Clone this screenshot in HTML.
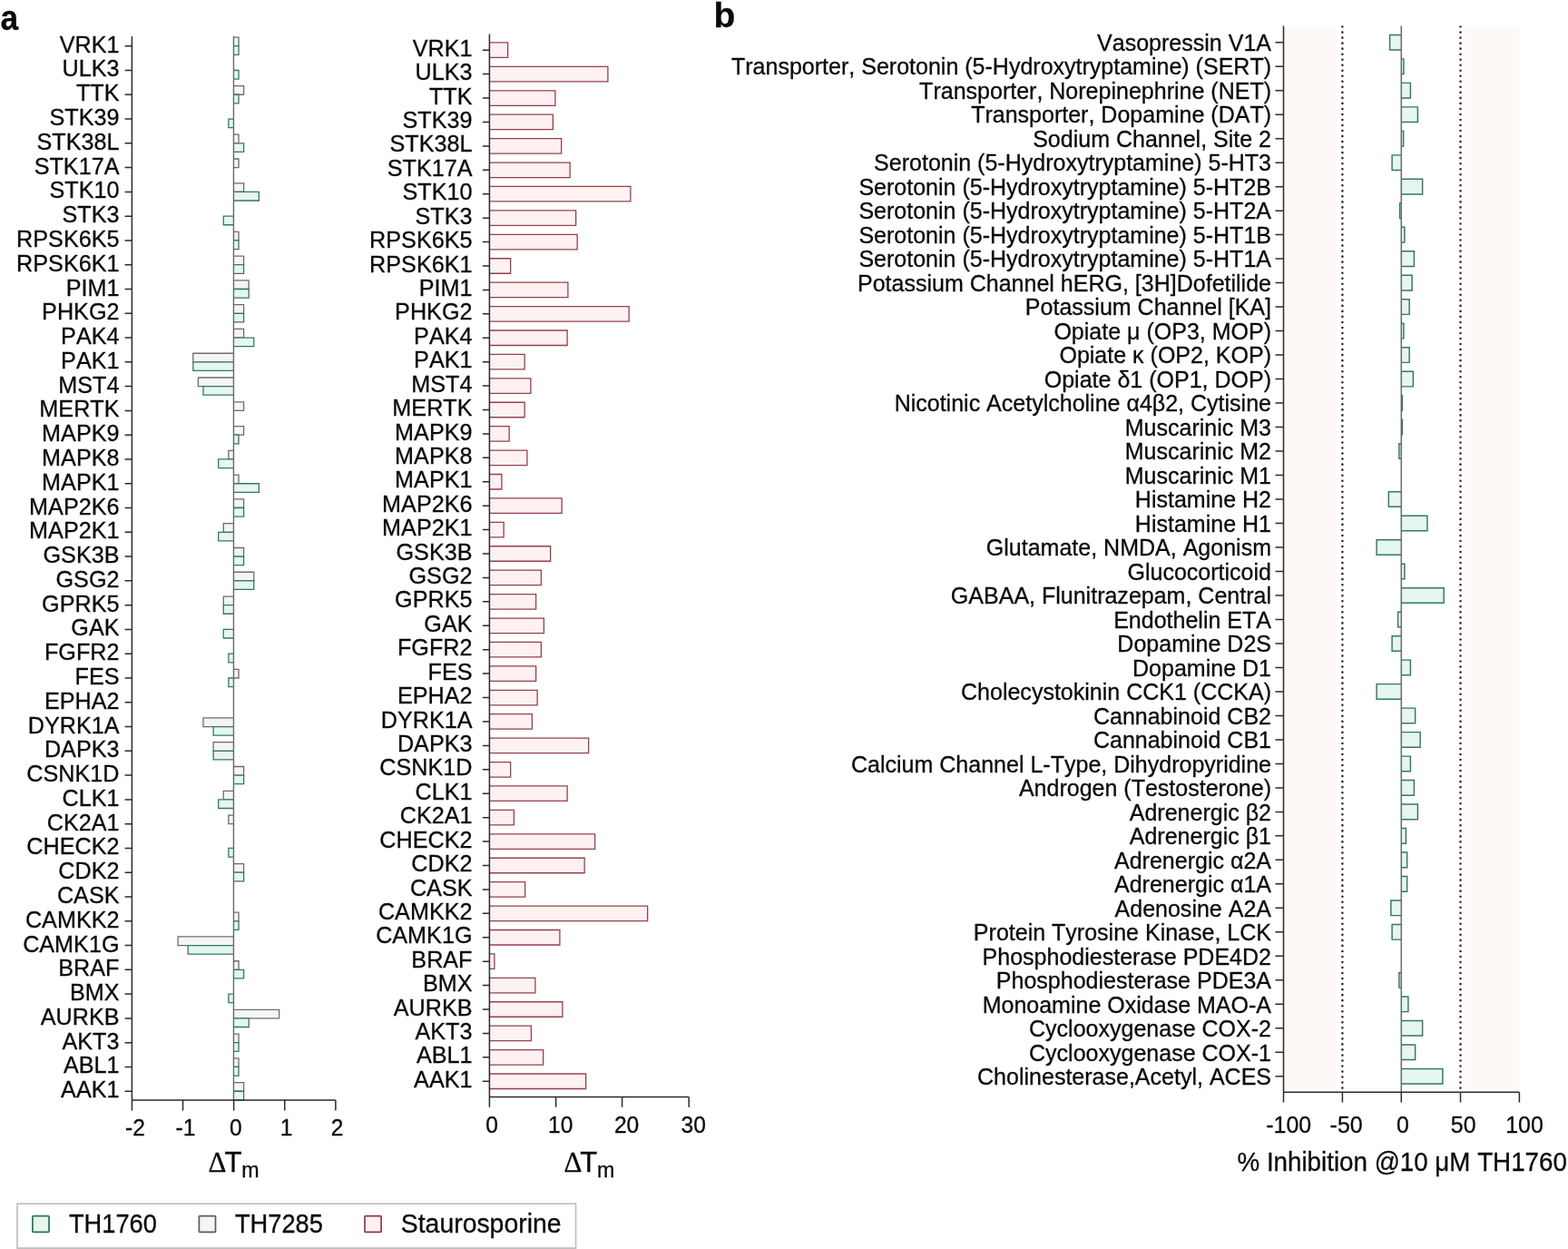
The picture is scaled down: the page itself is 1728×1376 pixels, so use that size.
<!DOCTYPE html>
<html lang="en"><head><meta charset="utf-8"><title>Figure</title>
<style>html,body{margin:0;padding:0;background:#fff}svg{display:block}text{font-family:"Liberation Sans",sans-serif;fill:#0a0a0a;font-kerning:none;stroke:#0a0a0a;stroke-width:.3px}.e{text-anchor:end}.m{text-anchor:middle}.b{font-weight:bold}.d{font-family:"Liberation Serif",serif}</style></head><body>
<svg width="1728" height="1376" viewBox="0 0 1728 1376">
<rect width="1728" height="1376" fill="#fff"/>
<text class="b" font-size="38" transform="translate(0.4 32.6) scale(0.93 1.000)">a</text>
<text class="b" font-size="39" x="786.5" y="29.5">b</text>
<g id="left">
<g font-size="25.2" class="e">
<text x="131.5" y="57.7">VRK1</text>
<text x="131.5" y="84.48">ULK3</text>
<text x="131.5" y="111.26">TTK</text>
<text x="131.5" y="138.04">STK39</text>
<text x="131.5" y="164.82">STK38L</text>
<text x="131.5" y="191.6">STK17A</text>
<text x="131.5" y="218.38">STK10</text>
<text x="131.5" y="245.16">STK3</text>
<text x="131.5" y="271.94">RPSK6K5</text>
<text x="131.5" y="298.72">RPSK6K1</text>
<text x="131.5" y="325.5">PIM1</text>
<text x="131.5" y="352.28">PHKG2</text>
<text x="131.5" y="379.06">PAK4</text>
<text x="131.5" y="405.84">PAK1</text>
<text x="131.5" y="432.62">MST4</text>
<text x="131.5" y="459.4">MERTK</text>
<text x="131.5" y="486.18">MAPK9</text>
<text x="131.5" y="512.96">MAPK8</text>
<text x="131.5" y="539.74">MAPK1</text>
<text x="131.5" y="566.52">MAP2K6</text>
<text x="131.5" y="593.3">MAP2K1</text>
<text x="131.5" y="620.08">GSK3B</text>
<text x="131.5" y="646.86">GSG2</text>
<text x="131.5" y="673.64">GPRK5</text>
<text x="131.5" y="700.42">GAK</text>
<text x="131.5" y="727.2">FGFR2</text>
<text x="131.5" y="753.98">FES</text>
<text x="131.5" y="780.76">EPHA2</text>
<text x="131.5" y="807.54">DYRK1A</text>
<text x="131.5" y="834.32">DAPK3</text>
<text x="131.5" y="861.1">CSNK1D</text>
<text x="131.5" y="887.88">CLK1</text>
<text x="131.5" y="914.66">CK2A1</text>
<text x="131.5" y="941.44">CHECK2</text>
<text x="131.5" y="968.22">CDK2</text>
<text x="131.5" y="995">CASK</text>
<text x="131.5" y="1021.78">CAMKK2</text>
<text x="131.5" y="1048.56">CAMK1G</text>
<text x="131.5" y="1075.34">BRAF</text>
<text x="131.5" y="1102.12">BMX</text>
<text x="131.5" y="1128.9">AURKB</text>
<text x="131.5" y="1155.68">AKT3</text>
<text x="131.5" y="1182.46">ABL1</text>
<text x="131.5" y="1209.24">AAK1</text>
</g>
<g stroke-width="1.3" stroke-linejoin="miter">
<path d="M257.45 41.1H263.03V50.7H257.45" fill="#f5f5f4" stroke="#6c6c6c"/>
<path d="M257.45 50.7H263.03V60.3H257.45" fill="#e5f7ef" stroke="#35795c"/>
<path d="M257.45 77.48H263.03V87.08H257.45" fill="#e5f7ef" stroke="#35795c"/>
<path d="M257.45 94.66H268.61V104.26H257.45" fill="#f5f5f4" stroke="#6c6c6c"/>
<path d="M257.45 104.26H263.03V113.86H257.45" fill="#e5f7ef" stroke="#35795c"/>
<path d="M257.45 131.04H251.87V140.64H257.45" fill="#e5f7ef" stroke="#35795c"/>
<path d="M257.45 148.22H263.03V157.82H257.45" fill="#f5f5f4" stroke="#6c6c6c"/>
<path d="M257.45 157.82H268.61V167.42H257.45" fill="#e5f7ef" stroke="#35795c"/>
<path d="M257.45 175H263.03V184.6H257.45" fill="#f5f5f4" stroke="#6c6c6c"/>
<path d="M257.45 201.78H268.61V211.38H257.45" fill="#f5f5f4" stroke="#6c6c6c"/>
<path d="M257.45 211.38H285.35V220.98H257.45" fill="#e5f7ef" stroke="#35795c"/>
<path d="M257.45 238.16H246.29V247.76H257.45" fill="#e5f7ef" stroke="#35795c"/>
<path d="M257.45 255.34H263.03V264.94H257.45" fill="#f5f5f4" stroke="#6c6c6c"/>
<path d="M257.45 264.94H263.03V274.54H257.45" fill="#e5f7ef" stroke="#35795c"/>
<path d="M257.45 282.12H268.61V291.72H257.45" fill="#f5f5f4" stroke="#6c6c6c"/>
<path d="M257.45 291.72H268.61V301.32H257.45" fill="#e5f7ef" stroke="#35795c"/>
<path d="M257.45 308.9H274.19V318.5H257.45" fill="#f5f5f4" stroke="#6c6c6c"/>
<path d="M257.45 318.5H274.19V328.1H257.45" fill="#e5f7ef" stroke="#35795c"/>
<path d="M257.45 335.68H268.61V345.28H257.45" fill="#f5f5f4" stroke="#6c6c6c"/>
<path d="M257.45 345.28H268.61V354.88H257.45" fill="#e5f7ef" stroke="#35795c"/>
<path d="M257.45 362.46H268.61V372.06H257.45" fill="#f5f5f4" stroke="#6c6c6c"/>
<path d="M257.45 372.06H279.77V381.66H257.45" fill="#e5f7ef" stroke="#35795c"/>
<path d="M257.45 389.24H212.81V398.84H257.45" fill="#f5f5f4" stroke="#6c6c6c"/>
<path d="M257.45 398.84H212.81V408.44H257.45" fill="#e5f7ef" stroke="#35795c"/>
<path d="M257.45 416.02H218.39V425.62H257.45" fill="#f5f5f4" stroke="#6c6c6c"/>
<path d="M257.45 425.62H223.97V435.22H257.45" fill="#e5f7ef" stroke="#35795c"/>
<path d="M257.45 442.8H268.61V452.4H257.45" fill="#f5f5f4" stroke="#6c6c6c"/>
<path d="M257.45 469.58H268.61V479.18H257.45" fill="#f5f5f4" stroke="#6c6c6c"/>
<path d="M257.45 479.18H263.03V488.78H257.45" fill="#e5f7ef" stroke="#35795c"/>
<path d="M257.45 496.36H251.87V505.96H257.45" fill="#f5f5f4" stroke="#6c6c6c"/>
<path d="M257.45 505.96H240.71V515.56H257.45" fill="#e5f7ef" stroke="#35795c"/>
<path d="M257.45 523.14H263.03V532.74H257.45" fill="#f5f5f4" stroke="#6c6c6c"/>
<path d="M257.45 532.74H285.35V542.34H257.45" fill="#e5f7ef" stroke="#35795c"/>
<path d="M257.45 549.92H268.61V559.52H257.45" fill="#f5f5f4" stroke="#6c6c6c"/>
<path d="M257.45 559.52H268.61V569.12H257.45" fill="#e5f7ef" stroke="#35795c"/>
<path d="M257.45 576.7H246.29V586.3H257.45" fill="#f5f5f4" stroke="#6c6c6c"/>
<path d="M257.45 586.3H240.71V595.9H257.45" fill="#e5f7ef" stroke="#35795c"/>
<path d="M257.45 603.48H268.61V613.08H257.45" fill="#f5f5f4" stroke="#6c6c6c"/>
<path d="M257.45 613.08H268.61V622.68H257.45" fill="#e5f7ef" stroke="#35795c"/>
<path d="M257.45 630.26H279.77V639.86H257.45" fill="#f5f5f4" stroke="#6c6c6c"/>
<path d="M257.45 639.86H279.77V649.46H257.45" fill="#e5f7ef" stroke="#35795c"/>
<path d="M257.45 657.04H246.29V666.64H257.45" fill="#f5f5f4" stroke="#6c6c6c"/>
<path d="M257.45 666.64H246.29V676.24H257.45" fill="#e5f7ef" stroke="#35795c"/>
<path d="M257.45 693.42H246.29V703.02H257.45" fill="#e5f7ef" stroke="#35795c"/>
<path d="M257.45 720.2H251.87V729.8H257.45" fill="#e5f7ef" stroke="#35795c"/>
<path d="M257.45 737.38H263.03V746.98H257.45" fill="#f5f5f4" stroke="#6c6c6c"/>
<path d="M257.45 746.98H251.87V756.58H257.45" fill="#e5f7ef" stroke="#35795c"/>
<path d="M257.45 790.94H223.97V800.54H257.45" fill="#f5f5f4" stroke="#6c6c6c"/>
<path d="M257.45 800.54H235.13V810.14H257.45" fill="#e5f7ef" stroke="#35795c"/>
<path d="M257.45 817.72H235.13V827.32H257.45" fill="#f5f5f4" stroke="#6c6c6c"/>
<path d="M257.45 827.32H235.13V836.92H257.45" fill="#e5f7ef" stroke="#35795c"/>
<path d="M257.45 844.5H268.61V854.1H257.45" fill="#f5f5f4" stroke="#6c6c6c"/>
<path d="M257.45 854.1H268.61V863.7H257.45" fill="#e5f7ef" stroke="#35795c"/>
<path d="M257.45 871.28H246.29V880.88H257.45" fill="#f5f5f4" stroke="#6c6c6c"/>
<path d="M257.45 880.88H240.71V890.48H257.45" fill="#e5f7ef" stroke="#35795c"/>
<path d="M257.45 898.06H251.87V907.66H257.45" fill="#f5f5f4" stroke="#6c6c6c"/>
<path d="M257.45 934.44H251.87V944.04H257.45" fill="#e5f7ef" stroke="#35795c"/>
<path d="M257.45 951.62H268.61V961.22H257.45" fill="#f5f5f4" stroke="#6c6c6c"/>
<path d="M257.45 961.22H268.61V970.82H257.45" fill="#e5f7ef" stroke="#35795c"/>
<path d="M257.45 1005.18H263.03V1014.78H257.45" fill="#f5f5f4" stroke="#6c6c6c"/>
<path d="M257.45 1014.78H263.03V1024.38H257.45" fill="#e5f7ef" stroke="#35795c"/>
<path d="M257.45 1031.96H196.07V1041.56H257.45" fill="#f5f5f4" stroke="#6c6c6c"/>
<path d="M257.45 1041.56H207.23V1051.16H257.45" fill="#e5f7ef" stroke="#35795c"/>
<path d="M257.45 1058.74H263.03V1068.34H257.45" fill="#f5f5f4" stroke="#6c6c6c"/>
<path d="M257.45 1068.34H268.61V1077.94H257.45" fill="#e5f7ef" stroke="#35795c"/>
<path d="M257.45 1095.12H251.87V1104.72H257.45" fill="#e5f7ef" stroke="#35795c"/>
<path d="M257.45 1112.3H307.67V1121.9H257.45" fill="#f5f5f4" stroke="#6c6c6c"/>
<path d="M257.45 1121.9H274.19V1131.5H257.45" fill="#e5f7ef" stroke="#35795c"/>
<path d="M257.45 1139.08H263.03V1148.68H257.45" fill="#f5f5f4" stroke="#6c6c6c"/>
<path d="M257.45 1148.68H263.03V1158.28H257.45" fill="#e5f7ef" stroke="#35795c"/>
<path d="M257.45 1165.86H263.03V1175.46H257.45" fill="#f5f5f4" stroke="#6c6c6c"/>
<path d="M257.45 1175.46H263.03V1185.06H257.45" fill="#e5f7ef" stroke="#35795c"/>
<path d="M257.45 1192.64H268.61V1202.24H257.45" fill="#f5f5f4" stroke="#6c6c6c"/>
<path d="M257.45 1202.24H268.61V1211.84H257.45" fill="#e5f7ef" stroke="#35795c"/>
</g>
<path d="M257.45 40V1211.9" stroke="#686868" stroke-width="1.4" fill="none"/>
<path d="M145.4 50.7h-7.8M145.4 77.48h-7.8M145.4 104.26h-7.8M145.4 131.04h-7.8M145.4 157.82h-7.8M145.4 184.6h-7.8M145.4 211.38h-7.8M145.4 238.16h-7.8M145.4 264.94h-7.8M145.4 291.72h-7.8M145.4 318.5h-7.8M145.4 345.28h-7.8M145.4 372.06h-7.8M145.4 398.84h-7.8M145.4 425.62h-7.8M145.4 452.4h-7.8M145.4 479.18h-7.8M145.4 505.96h-7.8M145.4 532.74h-7.8M145.4 559.52h-7.8M145.4 586.3h-7.8M145.4 613.08h-7.8M145.4 639.86h-7.8M145.4 666.64h-7.8M145.4 693.42h-7.8M145.4 720.2h-7.8M145.4 746.98h-7.8M145.4 773.76h-7.8M145.4 800.54h-7.8M145.4 827.32h-7.8M145.4 854.1h-7.8M145.4 880.88h-7.8M145.4 907.66h-7.8M145.4 934.44h-7.8M145.4 961.22h-7.8M145.4 988h-7.8M145.4 1014.78h-7.8M145.4 1041.56h-7.8M145.4 1068.34h-7.8M145.4 1095.12h-7.8M145.4 1121.9h-7.8M145.4 1148.68h-7.8M145.4 1175.46h-7.8M145.4 1202.24h-7.8M145.4 1211.9v11.6M201.52 1211.9v11.6M257.64 1211.9v11.6M313.76 1211.9v11.6M369.88 1211.9v11.6M145.4 40V1211.9H369.88" fill="none" stroke="#2b2b2b" stroke-width="1.5"/>
<g font-size="24.6" class="m">
<text transform="translate(149 1251.4) scale(1 1.030)">-2</text>
<text transform="translate(204.5 1251.4) scale(1 1.030)">-1</text>
<text transform="translate(259.9 1251.4) scale(1 1.030)">0</text>
<text transform="translate(315.6 1251.4) scale(1 1.030)">1</text>
<text transform="translate(371.7 1251.4) scale(1 1.030)">2</text>
</g>
<text transform="translate(230.2 1290.7) scale(1 1.03)" font-size="31.2"><tspan class="d" x="-0.6" font-size="31">Δ</tspan><tspan x="17.3">T</tspan><tspan font-size="23.2" x="36" y="6.1">m</tspan></text>
</g>
<g id="mid">
<g font-size="25.2" class="e">
<text transform="translate(520.5 61.8) scale(1 1.020)">VRK1</text>
<text transform="translate(520.5 88.22) scale(1 1.020)">ULK3</text>
<text transform="translate(520.5 114.64) scale(1 1.020)">TTK</text>
<text transform="translate(520.5 141.06) scale(1 1.020)">STK39</text>
<text transform="translate(520.5 167.48) scale(1 1.020)">STK38L</text>
<text transform="translate(520.5 193.9) scale(1 1.020)">STK17A</text>
<text transform="translate(520.5 220.32) scale(1 1.020)">STK10</text>
<text transform="translate(520.5 246.74) scale(1 1.020)">STK3</text>
<text transform="translate(520.5 273.16) scale(1 1.020)">RPSK6K5</text>
<text transform="translate(520.5 299.58) scale(1 1.020)">RPSK6K1</text>
<text transform="translate(520.5 326) scale(1 1.020)">PIM1</text>
<text transform="translate(520.5 352.42) scale(1 1.020)">PHKG2</text>
<text transform="translate(520.5 378.84) scale(1 1.020)">PAK4</text>
<text transform="translate(520.5 405.26) scale(1 1.020)">PAK1</text>
<text transform="translate(520.5 431.68) scale(1 1.020)">MST4</text>
<text transform="translate(520.5 458.1) scale(1 1.020)">MERTK</text>
<text transform="translate(520.5 484.52) scale(1 1.020)">MAPK9</text>
<text transform="translate(520.5 510.94) scale(1 1.020)">MAPK8</text>
<text transform="translate(520.5 537.36) scale(1 1.020)">MAPK1</text>
<text transform="translate(520.5 563.78) scale(1 1.020)">MAP2K6</text>
<text transform="translate(520.5 590.2) scale(1 1.020)">MAP2K1</text>
<text transform="translate(520.5 616.62) scale(1 1.020)">GSK3B</text>
<text transform="translate(520.5 643.04) scale(1 1.020)">GSG2</text>
<text transform="translate(520.5 669.46) scale(1 1.020)">GPRK5</text>
<text transform="translate(520.5 695.88) scale(1 1.020)">GAK</text>
<text transform="translate(520.5 722.3) scale(1 1.020)">FGFR2</text>
<text transform="translate(520.5 748.72) scale(1 1.020)">FES</text>
<text transform="translate(520.5 775.14) scale(1 1.020)">EPHA2</text>
<text transform="translate(520.5 801.56) scale(1 1.020)">DYRK1A</text>
<text transform="translate(520.5 827.98) scale(1 1.020)">DAPK3</text>
<text transform="translate(520.5 854.4) scale(1 1.020)">CSNK1D</text>
<text transform="translate(520.5 880.82) scale(1 1.020)">CLK1</text>
<text transform="translate(520.5 907.24) scale(1 1.020)">CK2A1</text>
<text transform="translate(520.5 933.66) scale(1 1.020)">CHECK2</text>
<text transform="translate(520.5 960.08) scale(1 1.020)">CDK2</text>
<text transform="translate(520.5 986.5) scale(1 1.020)">CASK</text>
<text transform="translate(520.5 1012.92) scale(1 1.020)">CAMKK2</text>
<text transform="translate(520.5 1039.34) scale(1 1.020)">CAMK1G</text>
<text transform="translate(520.5 1065.76) scale(1 1.020)">BRAF</text>
<text transform="translate(520.5 1092.18) scale(1 1.020)">BMX</text>
<text transform="translate(520.5 1118.6) scale(1 1.020)">AURKB</text>
<text transform="translate(520.5 1145.02) scale(1 1.020)">AKT3</text>
<text transform="translate(520.5 1171.44) scale(1 1.020)">ABL1</text>
<text transform="translate(520.5 1197.86) scale(1 1.020)">AAK1</text>
</g>
<g stroke-width="1.3">
<path d="M539.4 46.95H559.65V63.45H539.4" fill="#fef1f2" stroke="#96404b"/>
<path d="M539.4 73.37H669.9V89.87H539.4" fill="#fef1f2" stroke="#96404b"/>
<path d="M539.4 99.79H611.9V116.29H539.4" fill="#fef1f2" stroke="#96404b"/>
<path d="M539.4 126.21H609.4V142.71H539.4" fill="#fef1f2" stroke="#96404b"/>
<path d="M539.4 152.63H618.65V169.13H539.4" fill="#fef1f2" stroke="#96404b"/>
<path d="M539.4 179.05H628.15V195.55H539.4" fill="#fef1f2" stroke="#96404b"/>
<path d="M539.4 205.47H694.9V221.97H539.4" fill="#fef1f2" stroke="#96404b"/>
<path d="M539.4 231.89H634.65V248.39H539.4" fill="#fef1f2" stroke="#96404b"/>
<path d="M539.4 258.31H636.15V274.81H539.4" fill="#fef1f2" stroke="#96404b"/>
<path d="M539.4 284.73H562.65V301.23H539.4" fill="#fef1f2" stroke="#96404b"/>
<path d="M539.4 311.15H625.9V327.65H539.4" fill="#fef1f2" stroke="#96404b"/>
<path d="M539.4 337.57H693.15V354.07H539.4" fill="#fef1f2" stroke="#96404b"/>
<path d="M539.4 363.99H625.15V380.49H539.4" fill="#fef1f2" stroke="#96404b"/>
<path d="M539.4 390.41H578.15V406.91H539.4" fill="#fef1f2" stroke="#96404b"/>
<path d="M539.4 416.83H584.9V433.33H539.4" fill="#fef1f2" stroke="#96404b"/>
<path d="M539.4 443.25H578.15V459.75H539.4" fill="#fef1f2" stroke="#96404b"/>
<path d="M539.4 469.67H561.15V486.17H539.4" fill="#fef1f2" stroke="#96404b"/>
<path d="M539.4 496.09H580.9V512.59H539.4" fill="#fef1f2" stroke="#96404b"/>
<path d="M539.4 522.51H552.9V539.01H539.4" fill="#fef1f2" stroke="#96404b"/>
<path d="M539.4 548.93H619.15V565.43H539.4" fill="#fef1f2" stroke="#96404b"/>
<path d="M539.4 575.35H555.15V591.85H539.4" fill="#fef1f2" stroke="#96404b"/>
<path d="M539.4 601.77H606.65V618.27H539.4" fill="#fef1f2" stroke="#96404b"/>
<path d="M539.4 628.19H596.4V644.69H539.4" fill="#fef1f2" stroke="#96404b"/>
<path d="M539.4 654.61H590.65V671.11H539.4" fill="#fef1f2" stroke="#96404b"/>
<path d="M539.4 681.03H599.4V697.53H539.4" fill="#fef1f2" stroke="#96404b"/>
<path d="M539.4 707.45H596.4V723.95H539.4" fill="#fef1f2" stroke="#96404b"/>
<path d="M539.4 733.87H590.65V750.37H539.4" fill="#fef1f2" stroke="#96404b"/>
<path d="M539.4 760.29H592.15V776.79H539.4" fill="#fef1f2" stroke="#96404b"/>
<path d="M539.4 786.71H586.4V803.21H539.4" fill="#fef1f2" stroke="#96404b"/>
<path d="M539.4 813.13H648.65V829.63H539.4" fill="#fef1f2" stroke="#96404b"/>
<path d="M539.4 839.55H562.65V856.05H539.4" fill="#fef1f2" stroke="#96404b"/>
<path d="M539.4 865.97H625.15V882.47H539.4" fill="#fef1f2" stroke="#96404b"/>
<path d="M539.4 892.39H566.4V908.89H539.4" fill="#fef1f2" stroke="#96404b"/>
<path d="M539.4 918.81H655.65V935.31H539.4" fill="#fef1f2" stroke="#96404b"/>
<path d="M539.4 945.23H644.15V961.73H539.4" fill="#fef1f2" stroke="#96404b"/>
<path d="M539.4 971.65H578.65V988.15H539.4" fill="#fef1f2" stroke="#96404b"/>
<path d="M539.4 998.07H713.65V1014.57H539.4" fill="#fef1f2" stroke="#96404b"/>
<path d="M539.4 1024.49H616.9V1040.99H539.4" fill="#fef1f2" stroke="#96404b"/>
<path d="M539.4 1050.91H544.9V1067.41H539.4" fill="#fef1f2" stroke="#96404b"/>
<path d="M539.4 1077.33H589.9V1093.83H539.4" fill="#fef1f2" stroke="#96404b"/>
<path d="M539.4 1103.75H619.9V1120.25H539.4" fill="#fef1f2" stroke="#96404b"/>
<path d="M539.4 1130.17H585.4V1146.67H539.4" fill="#fef1f2" stroke="#96404b"/>
<path d="M539.4 1156.59H598.65V1173.09H539.4" fill="#fef1f2" stroke="#96404b"/>
<path d="M539.4 1183.01H645.65V1199.51H539.4" fill="#fef1f2" stroke="#96404b"/>
</g>
<path d="M539.4 55.2h-7.6M539.4 81.62h-7.6M539.4 108.04h-7.6M539.4 134.46h-7.6M539.4 160.88h-7.6M539.4 187.3h-7.6M539.4 213.72h-7.6M539.4 240.14h-7.6M539.4 266.56h-7.6M539.4 292.98h-7.6M539.4 319.4h-7.6M539.4 345.82h-7.6M539.4 372.24h-7.6M539.4 398.66h-7.6M539.4 425.08h-7.6M539.4 451.5h-7.6M539.4 477.92h-7.6M539.4 504.34h-7.6M539.4 530.76h-7.6M539.4 557.18h-7.6M539.4 583.6h-7.6M539.4 610.02h-7.6M539.4 636.44h-7.6M539.4 662.86h-7.6M539.4 689.28h-7.6M539.4 715.7h-7.6M539.4 742.12h-7.6M539.4 768.54h-7.6M539.4 794.96h-7.6M539.4 821.38h-7.6M539.4 847.8h-7.6M539.4 874.22h-7.6M539.4 900.64h-7.6M539.4 927.06h-7.6M539.4 953.48h-7.6M539.4 979.9h-7.6M539.4 1006.32h-7.6M539.4 1032.74h-7.6M539.4 1059.16h-7.6M539.4 1085.58h-7.6M539.4 1112h-7.6M539.4 1138.42h-7.6M539.4 1164.84h-7.6M539.4 1191.26h-7.6M539.4 1208.5v11.2M612.6 1208.5v11.2M685.6 1208.5v11.2M759.2 1208.5v11.2M539.4 37.5V1208.5H759.2" fill="none" stroke="#2b2b2b" stroke-width="1.5"/>
<g font-size="24.6" class="m">
<text transform="translate(542 1248) scale(1 1.030)">0</text>
<text transform="translate(617.8 1248) scale(1 1.030)">10</text>
<text transform="translate(690.6 1248) scale(1 1.030)">20</text>
<text transform="translate(764.2 1248) scale(1 1.030)">30</text>
</g>
<text transform="translate(622 1290.7) scale(1 1.03)" font-size="31.2"><tspan class="d" x="-0.6" font-size="31">Δ</tspan><tspan x="17.3">T</tspan><tspan font-size="23.2" x="36" y="6.1">m</tspan></text>
</g>
<g id="legend">
<rect x="18.15" y="1325.25" width="617.2" height="50.75" fill="#c0c0c0"/><rect x="19.85" y="1326.95" width="613.8" height="47.2" fill="#fff"/>
<g stroke-width="1.7">
<rect x="35.9" y="1339.7" width="18.1" height="17.7" rx="0.8" fill="#e5f7ef" stroke="#2f7254"/>
<rect x="219.4" y="1339.7" width="18.1" height="17.7" rx="0.8" fill="#f5f5f4" stroke="#5c5c5c"/>
<rect x="402" y="1339.7" width="18.1" height="17.7" rx="0.8" fill="#fef1f2" stroke="#8e3a45"/>
</g>
<g font-size="28.4">
<text transform="translate(75.9 1358) scale(0.96 1.045)">TH1760</text>
<text transform="translate(258.9 1358) scale(0.96 1.045)">TH7285</text>
<text transform="translate(441.8 1358) scale(1 1.045)">Staurosporine</text>
</g></g>
<g id="right">
<rect x="1414.5" y="29.6" width="57.9" height="1173.6" fill="#fef8f6"/>
<rect x="1614.4" y="29.6" width="59.8" height="1173.6" fill="#fef8f6"/>
<g font-size="25.03" class="e">
<text transform="translate(1401 56) scale(1 1.010)">Vasopressin V1A</text>
<text transform="translate(1401 82.49) scale(1 1.010)">Transporter, Serotonin (5-Hydroxytryptamine) (SERT)</text>
<text transform="translate(1401 108.98) scale(1 1.010)">Transporter, Norepinephrine (NET)</text>
<text transform="translate(1401 135.47) scale(1 1.010)">Transporter, Dopamine (DAT)</text>
<text transform="translate(1401 161.96) scale(1 1.010)">Sodium Channel, Site 2</text>
<text transform="translate(1401 188.45) scale(1 1.010)">Serotonin (5-Hydroxytryptamine) 5-HT3</text>
<text transform="translate(1401 214.94) scale(1 1.010)">Serotonin (5-Hydroxytryptamine) 5-HT2B</text>
<text transform="translate(1401 241.43) scale(1 1.010)">Serotonin (5-Hydroxytryptamine) 5-HT2A</text>
<text transform="translate(1401 267.92) scale(1 1.010)">Serotonin (5-Hydroxytryptamine) 5-HT1B</text>
<text transform="translate(1401 294.41) scale(1 1.010)">Serotonin (5-Hydroxytryptamine) 5-HT1A</text>
<text transform="translate(1401 320.9) scale(1 1.010)">Potassium Channel hERG, [3H]Dofetilide</text>
<text transform="translate(1401 347.39) scale(1 1.010)">Potassium Channel [KA]</text>
<text transform="translate(1401 373.88) scale(1 1.010)">Opiate μ (OP3, MOP)</text>
<text transform="translate(1401 400.37) scale(1 1.010)">Opiate κ (OP2, KOP)</text>
<text transform="translate(1401 426.86) scale(1 1.010)">Opiate δ1 (OP1, DOP)</text>
<text transform="translate(1401 453.35) scale(1 1.010)">Nicotinic Acetylcholine α4β2, Cytisine</text>
<text transform="translate(1401 479.84) scale(1 1.010)">Muscarinic M3</text>
<text transform="translate(1401 506.33) scale(1 1.010)">Muscarinic M2</text>
<text transform="translate(1401 532.82) scale(1 1.010)">Muscarinic M1</text>
<text transform="translate(1401 559.31) scale(1 1.010)">Histamine H2</text>
<text transform="translate(1401 585.8) scale(1 1.010)">Histamine H1</text>
<text transform="translate(1401 612.29) scale(1 1.010)">Glutamate, NMDA, Agonism</text>
<text transform="translate(1401 638.78) scale(1 1.010)">Glucocorticoid</text>
<text transform="translate(1401 665.27) scale(1 1.010)">GABAA, Flunitrazepam, Central</text>
<text transform="translate(1401 691.76) scale(1 1.010)">Endothelin ETA</text>
<text transform="translate(1401 718.25) scale(1 1.010)">Dopamine D2S</text>
<text transform="translate(1401 744.74) scale(1 1.010)">Dopamine D1</text>
<text transform="translate(1401 771.23) scale(1 1.010)">Cholecystokinin CCK1 (CCKA)</text>
<text transform="translate(1401 797.72) scale(1 1.010)">Cannabinoid CB2</text>
<text transform="translate(1401 824.21) scale(1 1.010)">Cannabinoid CB1</text>
<text transform="translate(1401 850.7) scale(1 1.010)">Calcium Channel L-Type, Dihydropyridine</text>
<text transform="translate(1401 877.19) scale(1 1.010)">Androgen (Testosterone)</text>
<text transform="translate(1401 903.68) scale(1 1.010)">Adrenergic β2</text>
<text transform="translate(1401 930.17) scale(1 1.010)">Adrenergic β1</text>
<text transform="translate(1401 956.66) scale(1 1.010)">Adrenergic α2A</text>
<text transform="translate(1401 983.15) scale(1 1.010)">Adrenergic α1A</text>
<text transform="translate(1401 1009.64) scale(1 1.010)">Adenosine A2A</text>
<text transform="translate(1401 1036.13) scale(1 1.010)">Protein Tyrosine Kinase, LCK</text>
<text transform="translate(1401 1062.62) scale(1 1.010)">Phosphodiesterase PDE4D2</text>
<text transform="translate(1401 1089.11) scale(1 1.010)">Phosphodiesterase PDE3A</text>
<text transform="translate(1401 1115.6) scale(1 1.010)">Monoamine Oxidase MAO-A</text>
<text transform="translate(1401 1142.09) scale(1 1.010)">Cyclooxygenase COX-2</text>
<text transform="translate(1401 1168.58) scale(1 1.010)">Cyclooxygenase COX-1</text>
<text transform="translate(1401 1195.07) scale(1 1.010)">Cholinesterase,Acetyl, ACES</text>
</g>
<path d="M1479.4 1198.6V29.3M1609.5 1198.6V29.3" stroke="#2e2e2e" stroke-width="2.6" stroke-linecap="round" stroke-dasharray="0.01 6.016" fill="none"/>
<g stroke-width="1.45">
<path d="M1544.3 38.4H1531.6V55H1544.3" fill="#e5f7ef" stroke="#35795c"/>
<path d="M1544.3 64.89H1546.9V81.49H1544.3" fill="#e5f7ef" stroke="#35795c"/>
<path d="M1544.3 91.38H1554.4V107.98H1544.3" fill="#e5f7ef" stroke="#35795c"/>
<path d="M1544.3 117.87H1562.4V134.47H1544.3" fill="#e5f7ef" stroke="#35795c"/>
<path d="M1544.3 144.36H1546.65V160.96H1544.3" fill="#e5f7ef" stroke="#35795c"/>
<path d="M1544.3 170.85H1534.1V187.45H1544.3" fill="#e5f7ef" stroke="#35795c"/>
<path d="M1544.3 197.34H1567.65V213.94H1544.3" fill="#e5f7ef" stroke="#35795c"/>
<path d="M1544.3 223.83H1542.6V240.43H1544.3" fill="#e5f7ef" stroke="#35795c"/>
<path d="M1544.3 250.32H1547.9V266.92H1544.3" fill="#e5f7ef" stroke="#35795c"/>
<path d="M1544.3 276.81H1558.4V293.41H1544.3" fill="#e5f7ef" stroke="#35795c"/>
<path d="M1544.3 303.3H1556.15V319.9H1544.3" fill="#e5f7ef" stroke="#35795c"/>
<path d="M1544.3 329.79H1553.15V346.39H1544.3" fill="#e5f7ef" stroke="#35795c"/>
<path d="M1544.3 356.28H1546.9V372.88H1544.3" fill="#e5f7ef" stroke="#35795c"/>
<path d="M1544.3 382.77H1553.15V399.37H1544.3" fill="#e5f7ef" stroke="#35795c"/>
<path d="M1544.3 409.26H1557.4V425.86H1544.3" fill="#e5f7ef" stroke="#35795c"/>
<path d="M1544.3 435.75H1545.4V452.35H1544.3" fill="#e5f7ef" stroke="#35795c"/>
<path d="M1544.3 462.24H1545.4V478.84H1544.3" fill="#e5f7ef" stroke="#35795c"/>
<path d="M1544.3 488.73H1541.85V505.33H1544.3" fill="#e5f7ef" stroke="#35795c"/>
<path d="M1544.3 541.71H1530.35V558.31H1544.3" fill="#e5f7ef" stroke="#35795c"/>
<path d="M1544.3 568.2H1572.9V584.8H1544.3" fill="#e5f7ef" stroke="#35795c"/>
<path d="M1544.3 594.69H1517.1V611.29H1544.3" fill="#e5f7ef" stroke="#35795c"/>
<path d="M1544.3 621.18H1547.9V637.78H1544.3" fill="#e5f7ef" stroke="#35795c"/>
<path d="M1544.3 647.67H1591.15V664.27H1544.3" fill="#e5f7ef" stroke="#35795c"/>
<path d="M1544.3 674.16H1540.6V690.76H1544.3" fill="#e5f7ef" stroke="#35795c"/>
<path d="M1544.3 700.65H1534.1V717.25H1544.3" fill="#e5f7ef" stroke="#35795c"/>
<path d="M1544.3 727.14H1554.4V743.74H1544.3" fill="#e5f7ef" stroke="#35795c"/>
<path d="M1544.3 753.63H1517.1V770.23H1544.3" fill="#e5f7ef" stroke="#35795c"/>
<path d="M1544.3 780.12H1559.65V796.72H1544.3" fill="#e5f7ef" stroke="#35795c"/>
<path d="M1544.3 806.61H1565.15V823.21H1544.3" fill="#e5f7ef" stroke="#35795c"/>
<path d="M1544.3 833.1H1554.4V849.7H1544.3" fill="#e5f7ef" stroke="#35795c"/>
<path d="M1544.3 859.59H1558.4V876.19H1544.3" fill="#e5f7ef" stroke="#35795c"/>
<path d="M1544.3 886.08H1562.4V902.68H1544.3" fill="#e5f7ef" stroke="#35795c"/>
<path d="M1544.3 912.57H1549.4V929.17H1544.3" fill="#e5f7ef" stroke="#35795c"/>
<path d="M1544.3 939.06H1550.65V955.66H1544.3" fill="#e5f7ef" stroke="#35795c"/>
<path d="M1544.3 965.55H1550.65V982.15H1544.3" fill="#e5f7ef" stroke="#35795c"/>
<path d="M1544.3 992.04H1532.85V1008.64H1544.3" fill="#e5f7ef" stroke="#35795c"/>
<path d="M1544.3 1018.53H1534.1V1035.13H1544.3" fill="#e5f7ef" stroke="#35795c"/>
<path d="M1544.3 1071.51H1541.85V1088.11H1544.3" fill="#e5f7ef" stroke="#35795c"/>
<path d="M1544.3 1098H1551.9V1114.6H1544.3" fill="#e5f7ef" stroke="#35795c"/>
<path d="M1544.3 1124.49H1567.65V1141.09H1544.3" fill="#e5f7ef" stroke="#35795c"/>
<path d="M1544.3 1150.98H1559.65V1167.58H1544.3" fill="#e5f7ef" stroke="#35795c"/>
<path d="M1544.3 1177.47H1589.9V1194.07H1544.3" fill="#e5f7ef" stroke="#35795c"/>
</g>
<path d="M1544.3 28.6V1203.2" stroke="#686868" stroke-width="1.5" fill="none"/>
<path d="M1414.5 46.7h-9M1414.5 73.19h-9M1414.5 99.68h-9M1414.5 126.17h-9M1414.5 152.66h-9M1414.5 179.15h-9M1414.5 205.64h-9M1414.5 232.13h-9M1414.5 258.62h-9M1414.5 285.11h-9M1414.5 311.6h-9M1414.5 338.09h-9M1414.5 364.58h-9M1414.5 391.07h-9M1414.5 417.56h-9M1414.5 444.05h-9M1414.5 470.54h-9M1414.5 497.03h-9M1414.5 523.52h-9M1414.5 550.01h-9M1414.5 576.5h-9M1414.5 602.99h-9M1414.5 629.48h-9M1414.5 655.97h-9M1414.5 682.46h-9M1414.5 708.95h-9M1414.5 735.44h-9M1414.5 761.93h-9M1414.5 788.42h-9M1414.5 814.91h-9M1414.5 841.4h-9M1414.5 867.89h-9M1414.5 894.38h-9M1414.5 920.87h-9M1414.5 947.36h-9M1414.5 973.85h-9M1414.5 1000.34h-9M1414.5 1026.83h-9M1414.5 1053.32h-9M1414.5 1079.81h-9M1414.5 1106.3h-9M1414.5 1132.79h-9M1414.5 1159.28h-9M1414.5 1185.77h-9M1414.5 1203.2v11.4M1479.4 1203.2v11.4M1544.3 1203.2v11.4M1609.5 1203.2v11.4M1674.4 1203.2v11.4M1414.5 28.6V1203.2H1674.4" fill="none" stroke="#2b2b2b" stroke-width="1.5"/>
<g font-size="24.9" class="m">
<text transform="translate(1420.2 1248.1) scale(1 1.040)">-100</text>
<text transform="translate(1483.6 1248.1) scale(1 1.040)">-50</text>
<text transform="translate(1546 1248.1) scale(1 1.040)">0</text>
<text transform="translate(1612.7 1248.1) scale(1 1.040)">50</text>
<text transform="translate(1680 1248.1) scale(1 1.040)">100</text>
</g>
<text font-size="27.76" transform="translate(1363.5 1289.7) scale(1 1.055)">% Inhibition @10 μM TH1760</text>
</g>
</svg></body></html>
